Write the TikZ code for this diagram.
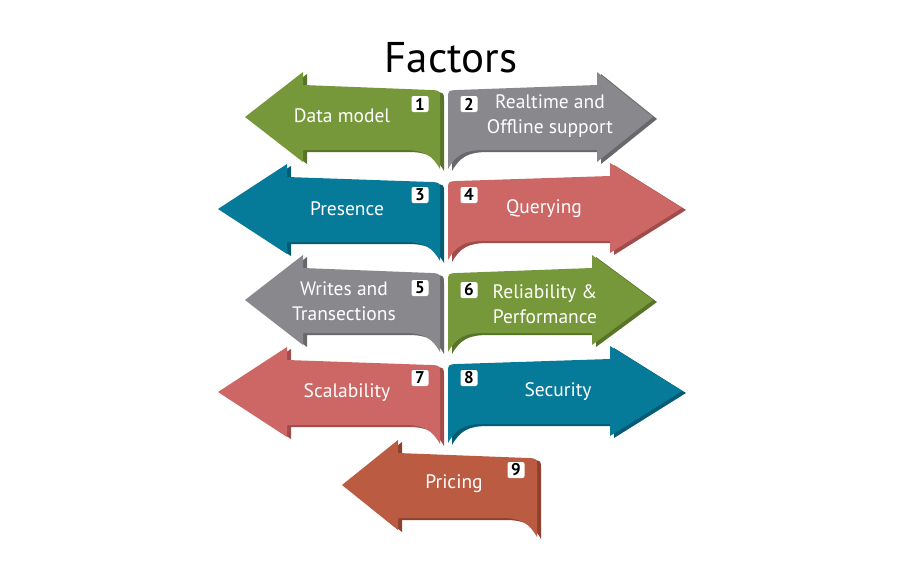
\documentclass[tikz,border=0pt]{standalone}
\usepackage{fontspec}
\setmainfont{PT Sans}

\definecolor{leafgreen}{RGB}{118,152,58}
\definecolor{leafdark}{RGB}{88,116,40}
\definecolor{stonegray}{RGB}{137,136,141}
\definecolor{stonedark}{RGB}{104,103,108}
\definecolor{seateal}{RGB}{6,122,153}
\definecolor{seadark}{RGB}{4,92,116}
\definecolor{salmon}{RGB}{205,103,101}
\definecolor{salmondark}{RGB}{160,76,74}
\definecolor{rust}{RGB}{186,91,66}
\definecolor{rustdark}{RGB}{142,66,46}

\tikzset{
    factor/.style={text=white, font=\fontsize{19.5}{25}\selectfont, align=center},
    numbox/.style={fill=white, rounded corners=2pt, minimum width=17pt, minimum height=16pt,
                   inner sep=0pt, font=\fontsize{17}{17}\selectfont\bfseries}
}

% #1 inner end, #2 face, #3 side, #4 length, #5 head, #6 direction
\newcommand{\banner}[6]{
    \begin{scope}[shift={#1}, xscale=#6]
        \fill[#3, shift={({4*#6},2)}] (-#4,0) -- (-#4+#5,-45) -- (-#4+#5,-32) -- (-9,-27)
            .. controls (0,-26.5) .. (0,-18) -- (0,52) .. controls (-8,38) and (-16,33) .. (-36,33)
            -- (-#4+#5,33) -- (-#4+#5,45) -- cycle;
        \fill[#2] (-#4,0) -- (-#4+#5,-45) -- (-#4+#5,-32) -- (-9,-27)
            .. controls (0,-26.5) .. (0,-18) -- (0,52) .. controls (-8,38) and (-16,33) .. (-36,33)
            -- (-#4+#5,33) -- (-#4+#5,45) -- cycle;
    \end{scope}
}

\begin{document}
\begin{tikzpicture}[x=1pt, y=-1pt]

            % \draw [help lines, step=50] (0,0) grid (900,576);
            \fill[white] (0,0) rectangle (900,576);
            \useasboundingbox (0,0) rectangle (900,576);

            \banner{(440,117)}{leafgreen}{leafdark}{195}{58}{1}
            \banner{(448,117)}{stonegray}{stonedark}{205}{56}{-1}
            \banner{(440,209)}{seateal}{seadark}{222}{69}{1}
            \banner{(448,208)}{salmon}{salmondark}{234}{72}{-1}
            \banner{(440,300)}{stonegray}{stonedark}{195}{58}{1}
            \banner{(448,300)}{leafgreen}{leafdark}{205}{61}{-1}
            \banner{(440,392)}{salmon}{salmondark}{222}{69}{1}
            \banner{(448,391)}{seateal}{seadark}{234}{72}{-1}
            \banner{(537,485)}{rust}{rustdark}{195}{56}{1}

            \node [font=\fontsize{43}{50}\selectfont] (title) at (451,58) {Factors};

            \node [factor] (datamodel) at (342,116) {Data model};
            \node [factor] (realtime) at (550,116) {Realtime and\\Offline support};
            \node [factor] (presence) at (347,209) {Presence};
            \node [factor] (querying) at (544,209) {Querying};
            \node [factor] (writes) at (344,301) {Writes and\\Transections};
            \node [factor] (reliability) at (545,304) {Reliability \&\\Performance};
            \node [factor] (scalability) at (347,393) {Scalability};
            \node [factor] (security) at (558,392) {Security};
            \node [factor] (pricing) at (454,484) {Pricing};

            \node [numbox] (n1) at (420,104) {1};
            \node [numbox] (n2) at (469,104) {2};
            \node [numbox] (n3) at (420,195) {3};
            \node [numbox] (n4) at (469,195) {4};
            \node [numbox] (n5) at (420,288) {5};
            \node [numbox] (n6) at (469,290) {6};
            \node [numbox] (n7) at (420,378) {7};
            \node [numbox] (n8) at (469,378) {8};
            \node [numbox] (n9) at (516,470) {9};

\end{tikzpicture}
\end{document}
